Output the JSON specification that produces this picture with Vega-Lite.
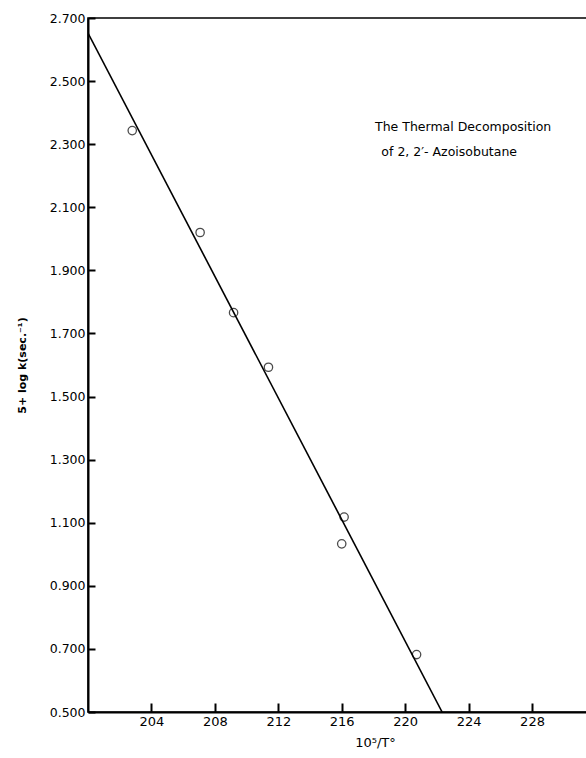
{
  "$schema": "https://vega.github.io/schema/vega-lite/v6.json",
  "width": 500,
  "height": 694,
  "autosize": {"type": "none"},
  "padding": {"left": 88, "top": 18, "right": 0, "bottom": 46},
  "background": "white",
  "config": {
    "view": {"stroke": "black", "strokeWidth": 1.6},
    "axis": {
      "labelFont": "DejaVu Sans",
      "titleFont": "DejaVu Sans",
      "labelColor": "black",
      "titleColor": "black",
      "domainColor": "black",
      "tickColor": "black",
      "domainWidth": 2,
      "tickWidth": 2,
      "grid": false
    }
  },
  "datasets": {
    "points": [
      {"inv_T": 202.79, "logk": 2.343},
      {"inv_T": 207.07, "logk": 2.020},
      {"inv_T": 209.18, "logk": 1.766},
      {"inv_T": 211.38, "logk": 1.593},
      {"inv_T": 216.15, "logk": 1.118},
      {"inv_T": 216.0, "logk": 1.033},
      {"inv_T": 220.72, "logk": 0.682}
    ],
    "fit": [
      {"inv_T": 200.0, "logk": 2.652},
      {"inv_T": 222.33, "logk": 0.5}
    ],
    "notes": [
      {"inv_T": 218.1, "logk": 2.354, "label": "The  Thermal  Decomposition"},
      {"inv_T": 218.5, "logk": 2.275, "label": "of   2, 2′- Azoisobutane"}
    ]
  },
  "layer": [
    {
      "data": {"name": "fit"},
      "mark": {"type": "line", "color": "black", "strokeWidth": 1.6, "clip": true},
      "encoding": {
        "x": {
          "field": "inv_T", "type": "quantitative",
          "scale": {"domain": [200, 231.53], "nice": false, "zero": false},
          "axis": {
            "values": [204, 208, 212, 216, 220, 224, 228],
            "tickSize": -9,
            "labelPadding": 12,
            "labelFontSize": 13,
            "title": "10⁵/T°",
            "titleFontSize": 13,
            "titleFontWeight": "normal",
            "titleX": 287,
            "titlePadding": 8
          }
        },
        "y": {
          "field": "logk", "type": "quantitative",
          "scale": {"domain": [0.5, 2.7], "nice": false, "zero": false},
          "axis": {
            "values": [0.5, 0.7, 0.9, 1.1, 1.3, 1.5, 1.7, 1.9, 2.1, 2.3, 2.5, 2.7],
            "format": ".3f",
            "tickSize": -7,
            "labelPadding": 10,
            "labelFontSize": 12.5,
            "title": "5+ log k(sec.⁻¹)",
            "titleFontSize": 11,
            "titleFontWeight": "bold",
            "titlePadding": 22
          }
        }
      }
    },
    {
      "data": {"name": "points"},
      "mark": {"type": "point", "shape": "circle", "filled": false, "color": "black", "size": 70, "strokeWidth": 1.3},
      "encoding": {
        "x": {"field": "inv_T", "type": "quantitative"},
        "y": {"field": "logk", "type": "quantitative"}
      }
    },
    {
      "data": {"name": "notes"},
      "mark": {"type": "text", "align": "left", "baseline": "middle", "font": "DejaVu Sans", "fontSize": 12.5, "color": "black"},
      "encoding": {
        "x": {"field": "inv_T", "type": "quantitative"},
        "y": {"field": "logk", "type": "quantitative"},
        "text": {"field": "label"}
      }
    }
  ]
}
